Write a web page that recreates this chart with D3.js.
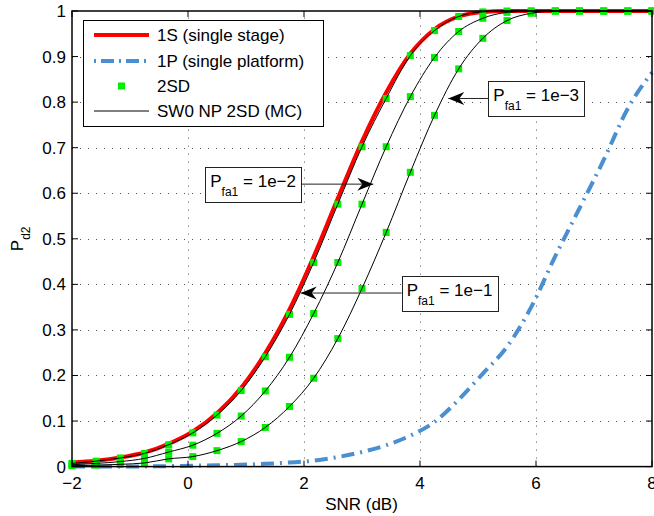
<!DOCTYPE html>
<html>
<head>
<meta charset="utf-8">
<script src="https://cdn.jsdelivr.net/npm/d3@7"></script>
<style>
  html, body { margin: 0; padding: 0; background: #fff; }
  svg { display: block; font-family: "Liberation Sans", Arial, Helvetica, sans-serif; }
</style>
</head>
<body>
<svg id="chart" width="654" height="516"></svg>
<script>
// SNR grid (dB) shared by all series
const snrDb = [-2, -1.583, -1.167, -0.75, -0.333, 0.083, 0.5, 0.917, 1.333, 1.75,
  2.167, 2.583, 3, 3.417, 3.833, 4.25, 4.667, 5.083, 5.5, 5.917,
  6.333, 6.75, 7.167, 7.583, 8];

// 1S (single stage)
const pd1S = [0.009, 0.013, 0.020, 0.031, 0.050, 0.077, 0.117, 0.173, 0.249, 0.345,
  0.461, 0.589, 0.714, 0.821, 0.906, 0.960, 0.988, 0.998, 1, 1,
  1, 1, 1, 1, 1];

// 1P (single platform)
const pd1P = [0, 0, 0, 0.0005, 0.001, 0.002, 0.003, 0.004, 0.006, 0.009,
  0.013, 0.021, 0.032, 0.047, 0.068, 0.098, 0.147, 0.204, 0.263, 0.350,
  0.462, 0.567, 0.673, 0.786, 0.865];

// 2SD for the three first-stage false-alarm rates
const pd2SD_1e1 = [0.007, 0.012, 0.019, 0.029, 0.048, 0.074, 0.113, 0.167, 0.241, 0.334,
  0.448, 0.576, 0.702, 0.808, 0.902, 0.957, 0.988, 0.998, 1, 1,
  1, 1, 1, 1, 1];
const pd2SD_1e2 = [0.004, 0.007, 0.011, 0.018, 0.032, 0.047, 0.073, 0.111, 0.166, 0.240,
  0.336, 0.448, 0.576, 0.702, 0.812, 0.898, 0.955, 0.984, 0.997, 1,
  1, 1, 1, 1, 1];
const pd2SD_1e3 = [0.002, 0.003, 0.005, 0.008, 0.017, 0.022, 0.035, 0.055, 0.086, 0.132,
  0.194, 0.281, 0.391, 0.514, 0.646, 0.771, 0.873, 0.940, 0.979, 0.995,
  1, 1, 1, 1, 1];

// SW0 NP 2SD Monte Carlo curves
const mc_1e1 = pd2SD_1e1;
const mc_1e2 = pd2SD_1e2;
const mc_1e3 = pd2SD_1e3;

const xTicks = [-2, 0, 2, 4, 6, 8];
const yTicks = [0, 0.1, 0.2, 0.3, 0.4, 0.5, 0.6, 0.7, 0.8, 0.9, 1];

const legendLabels = ["1S (single stage)", "1P (single platform)", "2SD", "SW0 NP 2SD (MC)"];
const calloutLabels = ["1e\u22122", "1e\u22121", "1e\u22123"];

// ---- layout -------------------------------------------------------------
const W = 654, H = 516;
const plot = { left: 72, right: 652, top: 11, bottom: 466.6 };
const FS = 17;          // main font size
const FS_SUB = 12;      // subscript font size

const svg = d3.select("#chart");
svg.append("rect").attr("width", W).attr("height", H).attr("fill", "#fff");

const x = d3.scaleLinear().domain([-2, 8]).range([plot.left, plot.right]);
const y = d3.scaleLinear().domain([0, 1]).range([plot.bottom, plot.top]);

const fmtY = v => (v === 0 ? "0" : v === 1 ? "1" : d3.format(".1f")(v));
const fmtX = v => (v < 0 ? "\u2212" + Math.abs(v) : String(v));

// dotted grid
const grid = svg.append("g").attr("stroke", "#555").attr("stroke-width", 1)
  .attr("stroke-dasharray", "1,7").attr("fill", "none");
xTicks.slice(1, -1).forEach(t => {
  grid.append("line").attr("x1", Math.round(x(t)) + 0.5).attr("x2", Math.round(x(t)) + 0.5)
    .attr("y1", plot.bottom).attr("y2", plot.top);
});
yTicks.slice(1, -1).forEach(t => {
  grid.append("line").attr("y1", Math.round(y(t)) + 0.5).attr("y2", Math.round(y(t)) + 0.5)
    .attr("x1", plot.left).attr("x2", plot.right);
});

// curves
const line = (ys) => d3.line()
  .x((d, i) => x(snrDb[i]))
  .y(d => y(d))
  .curve(d3.curveMonotoneX)(ys);

svg.append("path").attr("d", line(pd1S))
  .attr("fill", "none").attr("stroke", "#ff0000").attr("stroke-width", 4)
  .attr("stroke-linejoin", "round");

svg.append("path").attr("d", line(pd1P))
  .attr("fill", "none").attr("stroke", "#4a8fd0").attr("stroke-width", 4)
  .attr("stroke-dasharray", "13,6,2,6");

// 2SD markers
const markerSize = 7;
[pd2SD_1e1, pd2SD_1e2, pd2SD_1e3].forEach(series => {
  svg.append("g").selectAll("rect").data(series).join("rect")
    .attr("x", (d, i) => x(snrDb[i]) - markerSize / 2)
    .attr("y", d => y(d) - markerSize / 2)
    .attr("width", markerSize).attr("height", markerSize)
    .attr("fill", "#00f000");
});

// Monte Carlo lines
[mc_1e1, mc_1e2, mc_1e3].forEach(series => {
  svg.append("path").attr("d", line(series))
    .attr("fill", "none").attr("stroke", "#000").attr("stroke-width", 1);
});

// axes box and inward ticks
const axes = svg.append("g").attr("stroke", "#000").attr("fill", "none");
axes.append("rect")
  .attr("x", plot.left).attr("y", plot.top)
  .attr("width", plot.right - plot.left).attr("height", plot.bottom - plot.top)
  .attr("stroke-width", 1.5);
const TL = 6;
xTicks.forEach(t => {
  const px = x(t);
  axes.append("line").attr("x1", px).attr("x2", px).attr("y1", plot.bottom).attr("y2", plot.bottom - TL);
  axes.append("line").attr("x1", px).attr("x2", px).attr("y1", plot.top).attr("y2", plot.top + TL);
});
yTicks.forEach(t => {
  const py = y(t);
  axes.append("line").attr("y1", py).attr("y2", py).attr("x1", plot.left).attr("x2", plot.left + TL);
  axes.append("line").attr("y1", py).attr("y2", py).attr("x1", plot.right).attr("x2", plot.right - TL);
});

// tick labels
svg.append("g").selectAll("text").data(xTicks).join("text")
  .attr("x", d => x(d)).attr("y", 489)
  .attr("text-anchor", "middle").attr("font-size", FS).attr("fill", "#000")
  .text(fmtX);
svg.append("g").selectAll("text").data(yTicks).join("text")
  .attr("x", plot.left - 6).attr("y", d => y(d) + 6)
  .attr("text-anchor", "end").attr("font-size", FS).attr("fill", "#000")
  .text(fmtY);

// axis titles
svg.append("text").attr("x", (plot.left + plot.right) / 2 - 0.5).attr("y", 510)
  .attr("text-anchor", "middle").attr("font-size", FS).text("SNR (dB)");

const yl = svg.append("text")
  .attr("transform", `translate(23,${(plot.top + plot.bottom) / 2}) rotate(-90)`)
  .attr("text-anchor", "middle").attr("font-size", FS);
yl.append("tspan").text("P");
yl.append("tspan").attr("font-size", FS_SUB).attr("dy", 7).text("d2");

// legend
const lg = { x: 83, y: 20, w: 240, h: 106, rows: [35, 61, 86, 111], sx1: 94, sx2: 149, tx: 157 };
const legend = svg.append("g");
legend.append("rect").attr("x", lg.x + 0.5).attr("y", lg.y + 0.5).attr("width", lg.w).attr("height", lg.h)
  .attr("fill", "#fff").attr("stroke", "#000").attr("stroke-width", 1);
legend.append("line").attr("x1", lg.sx1).attr("x2", lg.sx2).attr("y1", lg.rows[0]).attr("y2", lg.rows[0])
  .attr("stroke", "#ff0000").attr("stroke-width", 4);
legend.append("line").attr("x1", lg.sx1).attr("x2", lg.sx2).attr("y1", lg.rows[1]).attr("y2", lg.rows[1])
  .attr("stroke", "#4a8fd0").attr("stroke-width", 4).attr("stroke-dasharray", "2,5,13,5");
legend.append("rect").attr("x", (lg.sx1 + lg.sx2) / 2 - markerSize / 2).attr("y", lg.rows[2] - markerSize / 2)
  .attr("width", markerSize).attr("height", markerSize).attr("fill", "#00f000");
legend.append("line").attr("x1", lg.sx1).attr("x2", lg.sx2).attr("y1", lg.rows[3]).attr("y2", lg.rows[3])
  .attr("stroke", "#000").attr("stroke-width", 1);
legend.selectAll("text.lbl").data(legendLabels).join("text").attr("class", "lbl")
  .attr("x", lg.tx).attr("y", (d, i) => lg.rows[i] + 6)
  .attr("font-size", FS).text(d => d);

// callouts: arrow tip in data units, box edge x in data units, box on the given side
const callouts = [
  { label: calloutLabels[0], tip: [3.195, 0.62], edge: 1.948, side: "left" },
  { label: calloutLabels[1], tip: [1.943, 0.381], edge: 3.684, side: "right" },
  { label: calloutLabels[2], tip: [4.488, 0.808], edge: 5.178, side: "right" }
];
const boxH = 35, padX = 5;
callouts.forEach(c => {
  const g = svg.append("g");
  const tx = x(c.tip[0]), ty = y(c.tip[1]);
  const ex = x(c.edge);
  const box = g.append("rect").attr("fill", "#fff").attr("stroke", "#222").attr("stroke-width", 1);
  const t = g.append("text").attr("font-size", FS).attr("y", ty + 2.5);
  t.append("tspan").text("P");
  t.append("tspan").attr("font-size", FS_SUB).attr("dy", 9).text("fa1");
  t.append("tspan").attr("dy", -9).text(" = " + c.label);
  const tw = t.node().getComputedTextLength();
  const bw = tw + 2 * padX;
  const bx = c.side === "left" ? ex - bw : ex;
  t.attr("x", bx + padX);
  box.attr("x", Math.round(bx) + 0.5).attr("y", Math.round(ty - boxH / 2) + 0.5)
    .attr("width", Math.round(bw)).attr("height", boxH);
  // shaft
  g.append("line").attr("x1", ex).attr("x2", tx).attr("y1", ty).attr("y2", ty)
    .attr("stroke", "#222").attr("stroke-width", 1);
  // barbed head
  const ang = tx > ex ? 0 : 180;
  g.append("path").attr("d", "M0,0 L-16,-6.5 L-11,0 L-16,6.5 Z")
    .attr("transform", `translate(${tx},${ty}) rotate(${ang})`)
    .attr("fill", "#000");
});
</script>
</body>
</html>
